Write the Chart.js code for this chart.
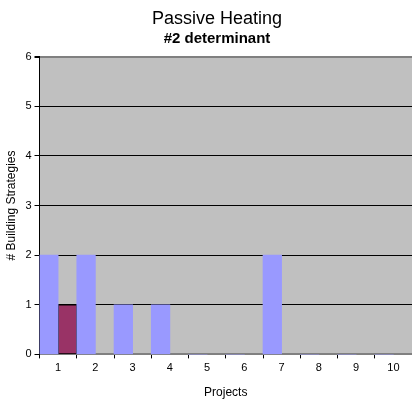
<!DOCTYPE html>
<html>
<head>
<meta charset="utf-8">
<title>Passive Heating</title>
<script src="https://cdn.jsdelivr.net/npm/chart.js@4"></script>
<style>
    html, body { margin: 0; padding: 0; background: #fff; }
    #wrap { width: 412px; height: 403px; }
</style>
</head>
<body>
<div id="wrap"><canvas id="chart"></canvas></div>
<script>
// --- DATA ---
const projects = ['1', '2', '3', '4', '5', '6', '7', '8', '9', '10'];
const seriesA = [2, 2, 1, 1, 0, 0, 2, 0, 0, 0];
const seriesB = [1, 0, 0, 0, 0, 0, 0, 0, 0, 0];
const yTicks = [0, 1, 2, 3, 4, 5, 6];

const TITLE = 'Passive Heating';
const SUBTITLE = '#2 determinant';
const FONT = "'Liberation Sans', Arial, sans-serif";

// gray plot area like the old spreadsheet charts
const plotBg = {
    id: 'plotBg',
    beforeDraw(chart) {
        const { ctx, chartArea: a } = chart;
        ctx.save();
        ctx.fillStyle = '#c0c0c0';
        ctx.fillRect(a.left, a.top, a.right - a.left, a.bottom - a.top);
        ctx.restore();
    }
};

// titles sit a little right of the canvas center
const titleShift = {
    id: 'titleShift',
    afterLayout(chart) {
        const dx = 11;
        chart.boxes.forEach(b => {
            if (b.options && (b.options.text === TITLE || b.options.text === SUBTITLE)) {
                b.left += dx;
                b.right += dx;
            }
        });
    }
};

new Chart(document.getElementById('chart'), {
    type: 'bar',
    data: {
        labels: projects,
        datasets: [
            { data: seriesA, backgroundColor: '#9999ff', borderWidth: 0 },
            { data: seriesB, backgroundColor: '#993366', borderColor: '#000', borderWidth: 1, borderSkipped: false }
        ]
    },
    options: {
        responsive: true,
        maintainAspectRatio: false,
        animation: false,
        layout: { padding: 0 },
        datasets: { bar: { barPercentage: 1, categoryPercentage: 1 } },
        scales: {
            x: {
                grid: {
                    offset: true, drawOnChartArea: false, drawTicks: true,
                    tickLength: 4, tickColor: '#000'
                },
                border: { color: '#808080', width: 2 },
                ticks: { color: '#000', font: { family: FONT, size: 11 }, padding: 3, maxRotation: 0 },
                title: {
                    display: true, text: 'Projects', color: '#000',
                    font: { family: FONT, size: 12 }, padding: { top: 8, bottom: 3 }
                }
            },
            y: {
                min: 0, max: 6,
                afterBuildTicks: axis => { axis.ticks = yTicks.map(v => ({ value: v })); },
                grid: {
                    color: c => c.tick && c.tick.value === 6 ? '#808080' : '#000',
                    lineWidth: c => c.tick && c.tick.value === 6 ? 2 : 1,
                    tickLength: 5, tickColor: '#000'
                },
                border: { color: '#000', width: 1 },
                ticks: { color: '#000', font: { family: FONT, size: 11 }, padding: 3 },
                title: {
                    display: true, text: '# Building Strategies', color: '#000',
                    font: { family: FONT, size: 12 }, padding: { top: 4, bottom: 4 }
                }
            }
        },
        plugins: {
            legend: { display: false },
            tooltip: { enabled: false },
            title: {
                display: true, text: TITLE, color: '#000',
                font: { family: FONT, size: 18, weight: 'normal' },
                padding: { top: 8, bottom: 0 }
            },
            subtitle: {
                display: true, text: SUBTITLE, color: '#000',
                font: { family: FONT, size: 15, weight: 'bold' },
                padding: { top: 0, bottom: 9 }
            }
        }
    },
    plugins: [plotBg, titleShift]
});
</script>
</body>
</html>
